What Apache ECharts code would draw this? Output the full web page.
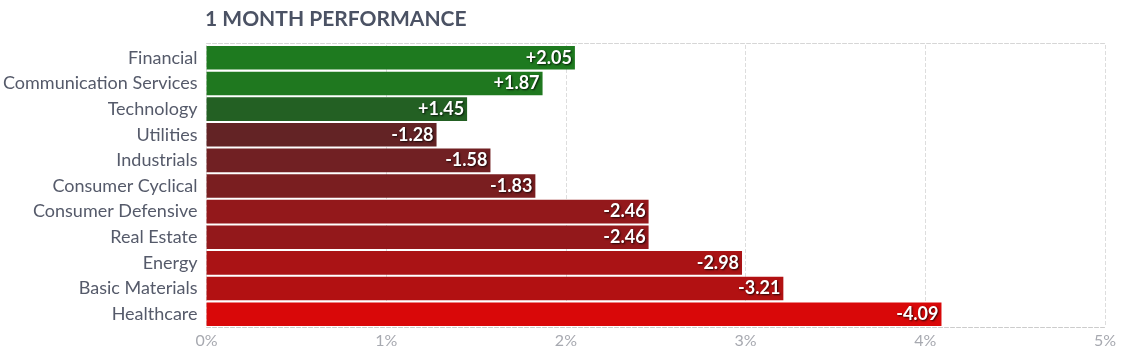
<!DOCTYPE html>
<html>
<head>
<meta charset="utf-8">
<script src="https://cdn.jsdelivr.net/npm/echarts@6/dist/echarts.min.js"></script>
<style>html,body{margin:0;padding:0;background:#fff}#c{width:1136px;height:352px}</style>
</head>
<body>
<div id="c"></div>
<script>
const categories = ["Financial","Communication Services","Technology","Utilities","Industrials","Consumer Cyclical","Consumer Defensive","Real Estate","Energy","Basic Materials","Healthcare"];
const changes = [2.05, 1.87, 1.45, -1.28, -1.58, -1.83, -2.46, -2.46, -2.98, -3.21, -4.09];
const barColors = ["#1e7a1f","#1f781f","#236023","#632325","#712023","#7a1e20","#93181b","#93181b","#aa1315","#b21112","#d90809"];
const tickValues = [0,1,2,3,4,5];

const chart = echarts.init(document.getElementById('c'), null, {renderer:'canvas'});
const FONT = 'Lato';
chart.setOption({
  animation:false,
  title:{text:'1 MONTH PERFORMANCE', left:200, top:4, textStyle:{fontFamily:FONT, fontWeight:'bold', fontSize:21, color:'#4b5264'}},
  grid:{left:205, right:31, top:45, bottom:25, containLabel:false},
  xAxis:[{
    type:'value', min:tickValues[0], max:tickValues[tickValues.length-1], interval:1,
    axisLine:{show:true, lineStyle:{color:'#cccccc', type:'dashed'}},
    axisTick:{show:false},
    splitLine:{show:true, lineStyle:{color:'#dddddd', type:'dashed'}},
    axisLabel:{formatter:v=>v+'%', fontFamily:FONT, fontSize:16, color:'#a7a9b0', margin:6}
  },{
    type:'value', position:'top', offset:2, min:0, max:5, interval:1,
    axisLine:{show:true, lineStyle:{color:'#d6d6d6', type:'dashed'}},
    axisTick:{show:false}, axisLabel:{show:false}, splitLine:{show:false}
  }],
  yAxis:{
    type:'category', data:categories, inverse:true,
    axisLine:{show:false}, axisTick:{show:false}, splitLine:{show:false},
    axisLabel:{fontFamily:FONT, fontSize:18, color:'#555a6a', margin:9}
  },
  series:[{
    type:'bar', xAxisIndex:0,
    data:changes.map((v,i)=>({value:Math.abs(v), itemStyle:{color:barColors[i]}})),
    barCategoryGap:'8%',
    label:{show:true, position:'insideRight', distance:3,
      formatter:p=>{const v=changes[p.dataIndex]; return (v>0?'+':'')+v.toFixed(2);},
      fontFamily:FONT, fontWeight:'bold', fontSize:18, color:'#ffffff',
      textShadowColor:'rgba(0,0,0,0.8)', textShadowBlur:2, textShadowOffsetX:1, textShadowOffsetY:1}
  }]
});
</script>
</body>
</html>
